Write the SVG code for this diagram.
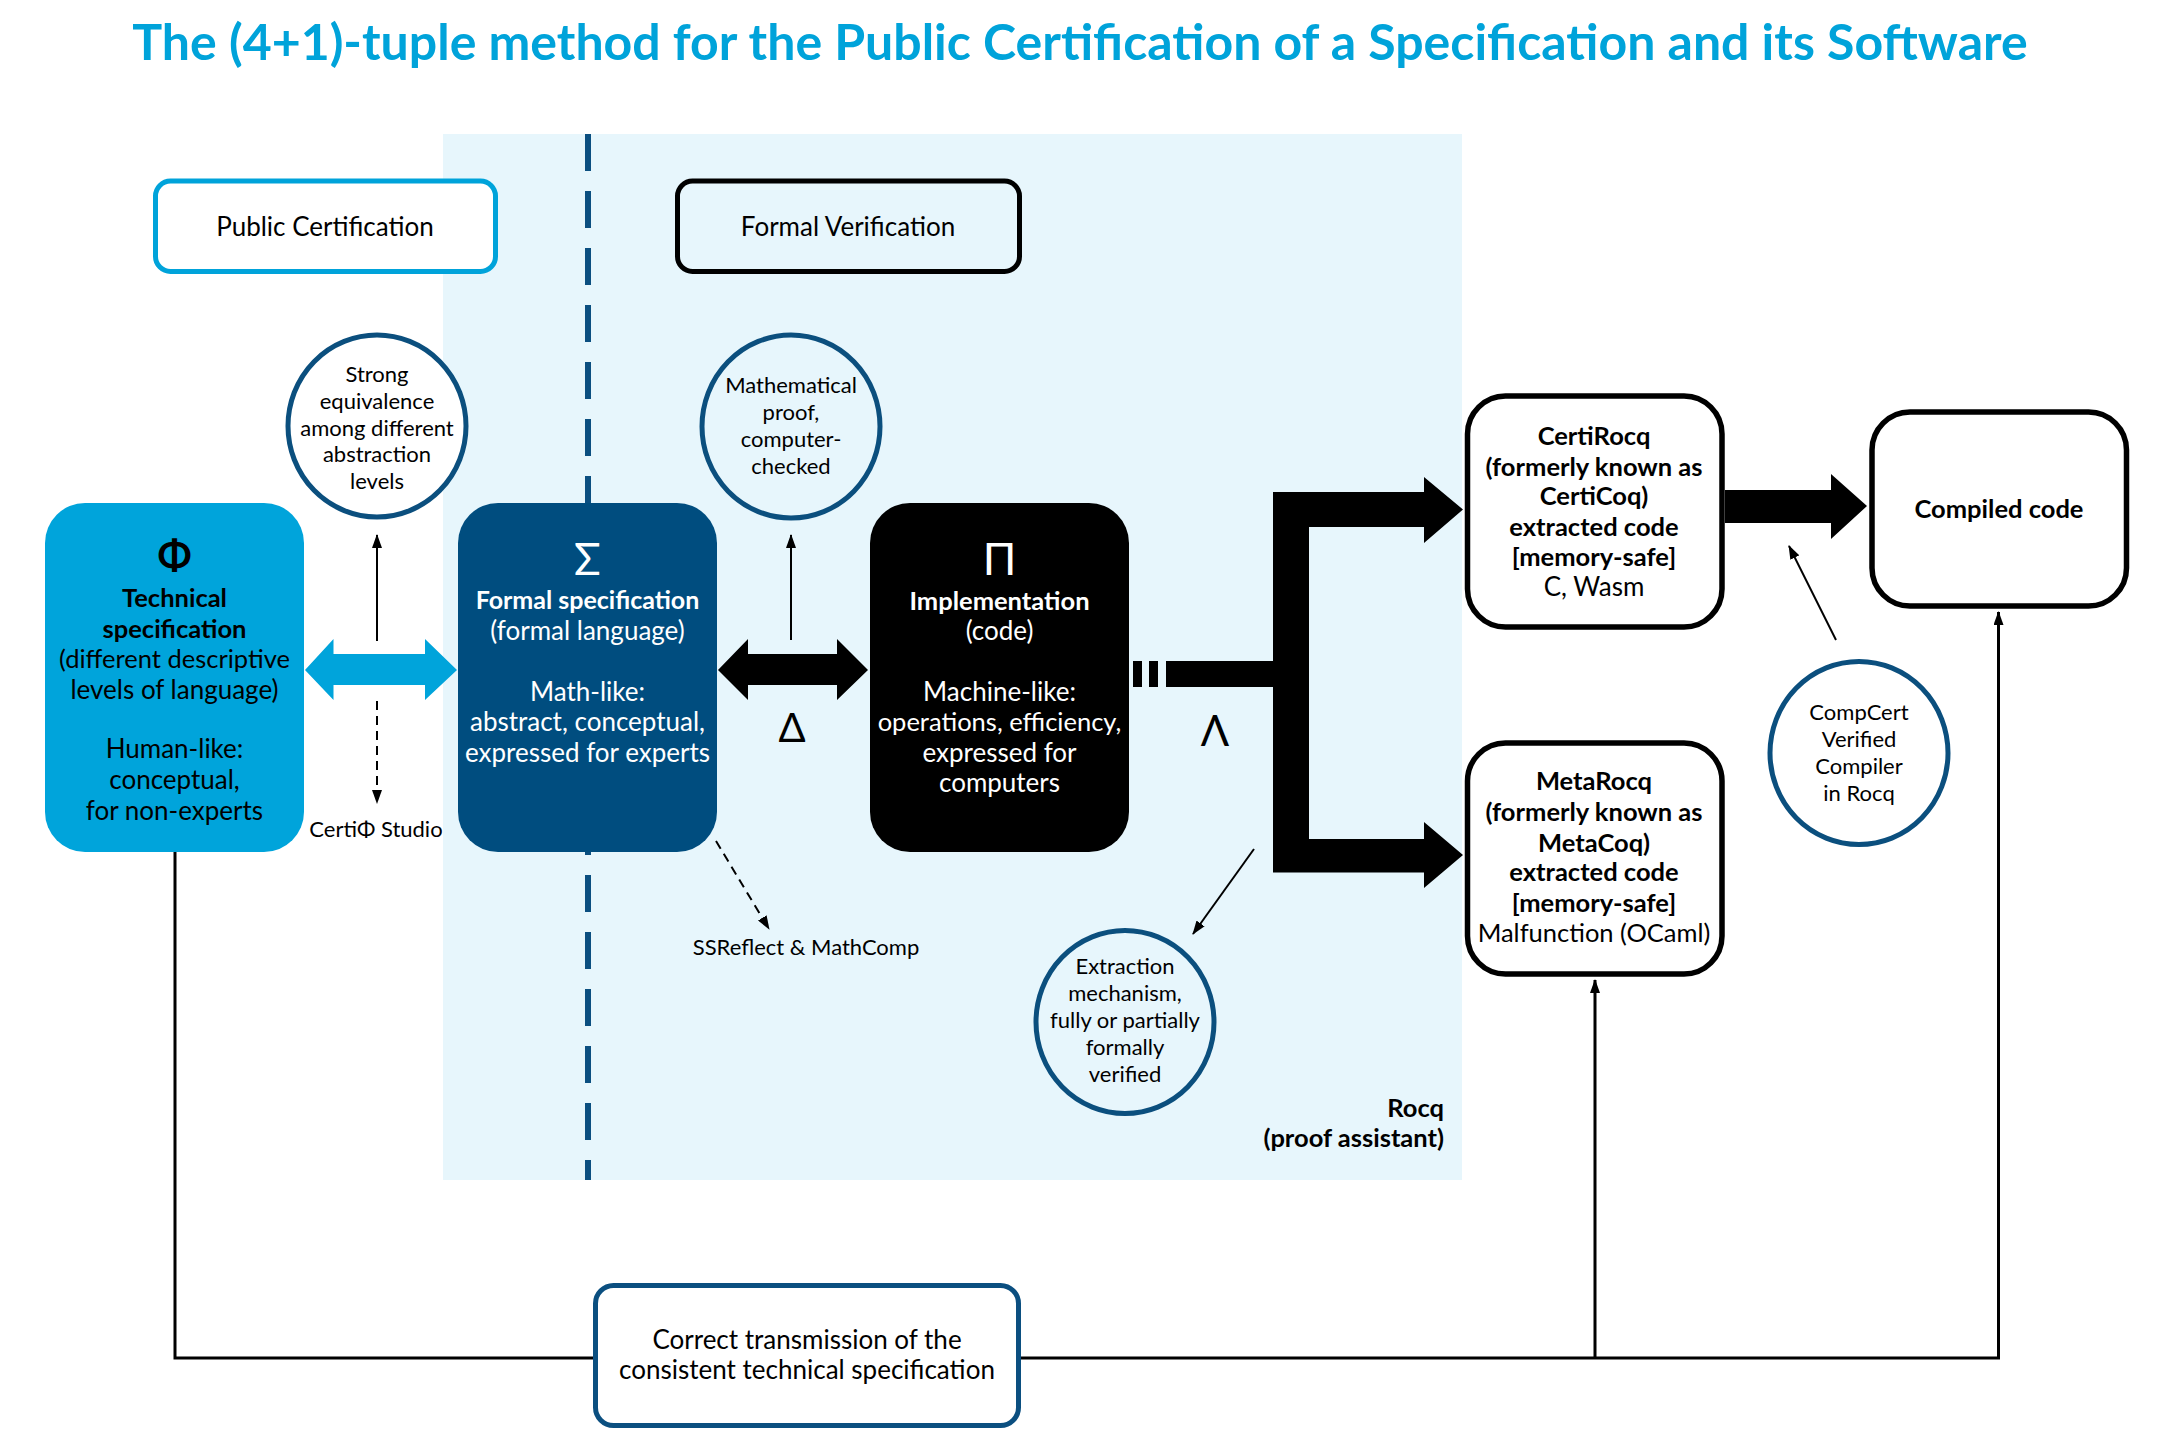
<svg xmlns="http://www.w3.org/2000/svg" width="2160" height="1440" viewBox="0 0 2160 1440">
<defs>
<style>
text{font-family:Lato,"Noto Sans","Liberation Sans",sans-serif;font-size:26px;text-anchor:middle;fill:#000}
.b{font-weight:bold;font-size:25.5px}
.w{fill:#fff}
.s22{font-size:22px}
.circ{fill:#fff;stroke:#0B4F7E;stroke-width:5}
.circt{fill:none;stroke:#0B4F7E;stroke-width:5}
.thin{stroke:#000;stroke-width:2;fill:none}
.dash{stroke-dasharray:9 6}
.conn{stroke:#000;stroke-width:3;fill:none}
</style>
<marker id="ah" markerUnits="userSpaceOnUse" markerWidth="14" markerHeight="10" refX="13" refY="5" orient="auto">
<path d="M0,0 L14,5 L0,10 z" fill="#000"/>
</marker>
</defs>
<rect width="2160" height="1440" fill="#fff"/>
<text x="1080" y="60" style="font-size:50px;font-weight:bold;fill:#00A3DA">The (4+1)-tuple method for the Public Certification of a Specification and its Software</text>

<g id="rocq-region">
<rect x="443" y="134" width="1019" height="1046" fill="#E7F6FC"/>
<line x1="588" y1="134" x2="588" y2="1180" stroke="#0B4F80" stroke-width="6" stroke-dasharray="37 20"/>
<text x="1444" y="1117" class="b" style="text-anchor:end">Rocq</text>
<text x="1444" y="1147" class="b" style="text-anchor:end">(proof assistant)</text>
</g>

<g id="public-certification">
<rect x="155.5" y="181" width="340" height="90.5" rx="15" fill="#fff" stroke="#00A3DA" stroke-width="5"/>
<text x="325" y="236">Public Certification</text>
</g>
<g id="formal-verification">
<rect x="677.5" y="181" width="342" height="90.5" rx="15" fill="none" stroke="#000" stroke-width="5"/>
<text x="848" y="236">Formal Verification</text>
</g>

<g id="connectors">
<polygon points="305,670 333.5,639 333.5,654 425,654 425,639 457,670 425,700 425,685 333.5,685 333.5,700" fill="#00A4DB"/>
<polygon points="718,670 748,639 748,654 837,654 837,639 868,670 837,700 837,685 748,685 748,700" fill="#000"/>
<rect x="1133" y="661" width="9" height="26" fill="#000"/>
<rect x="1149" y="661" width="9" height="26" fill="#000"/>
<rect x="1166" y="661" width="108" height="26" fill="#000"/>
<polygon points="1273,492 1424,492 1424,477 1463,509.5 1424,543 1424,527 1309,527 1309,839 1424,839 1424,822 1463,855 1424,888 1424,872.5 1273,872.5" fill="#000"/>
<polygon points="1725,490 1831,490 1831,474 1867,506 1831,539 1831,523 1725,523" fill="#000"/>
<line x1="377" y1="641" x2="377" y2="535" class="thin" marker-end="url(#ah)"/>
<line x1="377" y1="701" x2="377" y2="803" class="thin dash" marker-end="url(#ah)"/>
<line x1="791" y1="640" x2="791" y2="535" class="thin" marker-end="url(#ah)"/>
<line x1="716" y1="841" x2="769" y2="929" class="thin dash" marker-end="url(#ah)"/>
<line x1="1254" y1="849" x2="1193" y2="934" class="thin" marker-end="url(#ah)"/>
<line x1="1836" y1="640" x2="1789" y2="546" class="thin" marker-end="url(#ah)"/>
<polyline points="175,852 175,1358 593,1358" class="conn"/>
<polyline points="1021,1358 1998.5,1358 1998.5,612" class="conn" marker-end="url(#ah)"/>
<line x1="1595" y1="1358" x2="1595" y2="980" class="conn" marker-end="url(#ah)"/>
<text x="792" y="742" style="font-size:40px">Δ</text>
<text x="1215" y="746" style="font-size:42px">Λ</text>
<text x="376" y="837" class="s22">CertiΦ Studio</text>
<text x="806" y="955" class="s22">SSReflect &amp; MathComp</text>
</g>

<g id="strong-equivalence">
<ellipse cx="377" cy="426" rx="89" ry="91" class="circ"/>
<text x="377" y="382" class="s22">Strong</text>
<text x="377" y="409" class="s22">equivalence</text>
<text x="377" y="436" class="s22">among different</text>
<text x="377" y="462" class="s22">abstraction</text>
<text x="377" y="489" class="s22">levels</text>
</g>

<g id="math-proof">
<ellipse cx="791" cy="426.5" rx="89" ry="91.5" class="circt"/>
<text x="791" y="393" class="s22">Mathematical</text>
<text x="791" y="420" class="s22">proof,</text>
<text x="791" y="447" class="s22">computer-</text>
<text x="791" y="474" class="s22">checked</text>
</g>

<g id="technical-spec">
<rect x="45" y="503" width="259" height="349" rx="40" fill="#00A4DB"/>
<text x="174.5" y="570" style="font-size:40px;font-weight:bold">Φ</text>
<text x="174.5" y="607" class="b">Technical</text>
<text x="174.5" y="638" class="b">specification</text>
<text x="174.5" y="668" style="font-size:25.5px">(different descriptive</text>
<text x="174.5" y="699">levels of language)</text>
<text x="174.5" y="758">Human-like:</text>
<text x="174.5" y="789">conceptual,</text>
<text x="174.5" y="820">for non-experts</text>
</g>

<g id="formal-spec">
<rect x="458" y="503" width="259" height="349" rx="40" fill="#004D7F"/>
<text x="587.5" y="575" class="w" style="font-size:44px">Σ</text>
<text x="587.5" y="609" class="b w" style="font-size:25px">Formal specification</text>
<text x="587.5" y="640" class="w">(formal language)</text>
<text x="587.5" y="701" class="w">Math-like:</text>
<text x="587.5" y="731" class="w">abstract, conceptual,</text>
<text x="587.5" y="762" class="w">expressed for experts</text>
</g>

<g id="implementation">
<rect x="870" y="503" width="259" height="349" rx="40" fill="#000"/>
<text x="999.5" y="575" class="w" style="font-size:44px">Π</text>
<text x="999.5" y="610" class="b w">Implementation</text>
<text x="999.5" y="640" class="w">(code)</text>
<text x="999.5" y="701" class="w">Machine-like:</text>
<text x="999.5" y="731" class="w" style="font-size:25.5px">operations, efficiency,</text>
<text x="999.5" y="762" class="w">expressed for</text>
<text x="999.5" y="792" class="w">computers</text>
</g>

<g id="extraction">
<ellipse cx="1125" cy="1022" rx="89" ry="91.5" class="circt"/>
<text x="1125" y="974" class="s22">Extraction</text>
<text x="1125" y="1001" class="s22">mechanism,</text>
<text x="1125" y="1028" class="s22">fully or partially</text>
<text x="1125" y="1055" class="s22">formally</text>
<text x="1125" y="1082" class="s22">verified</text>
</g>

<g id="certirocq">
<rect x="1467.5" y="396" width="254.5" height="231" rx="38" fill="#fff" stroke="#000" stroke-width="5.5"/>
<text x="1594" y="445" class="b">CertiRocq</text>
<text x="1594" y="476" class="b">(formerly known as</text>
<text x="1594" y="505" class="b">CertiCoq)</text>
<text x="1594" y="536" class="b">extracted code</text>
<text x="1594" y="566" class="b">[memory-safe]</text>
<text x="1594" y="596">C, Wasm</text>
</g>

<g id="metarocq">
<rect x="1467.5" y="743" width="254.5" height="231" rx="38" fill="#fff" stroke="#000" stroke-width="5.5"/>
<text x="1594" y="790" class="b">MetaRocq</text>
<text x="1594" y="821" class="b">(formerly known as</text>
<text x="1594" y="852" class="b">MetaCoq)</text>
<text x="1594" y="881" class="b">extracted code</text>
<text x="1594" y="912" class="b">[memory-safe]</text>
<text x="1594" y="942" style="font-size:25.5px">Malfunction (OCaml)</text>
</g>

<g id="compiled-code">
<rect x="1872" y="412" width="254.5" height="194" rx="38" fill="#fff" stroke="#000" stroke-width="5.5"/>
<text x="1999" y="518" class="b">Compiled code</text>
</g>

<g id="compcert">
<ellipse cx="1859" cy="753" rx="89" ry="91.5" class="circ"/>
<text x="1859" y="720" class="s22">CompCert</text>
<text x="1859" y="747" class="s22">Verified</text>
<text x="1859" y="774" class="s22">Compiler</text>
<text x="1859" y="801" class="s22">in Rocq</text>
</g>

<g id="transmission">
<rect x="595.5" y="1285.5" width="423" height="140" rx="18" fill="#fff" stroke="#0B4F80" stroke-width="5"/>
<text x="807" y="1349">Correct transmission of the</text>
<text x="807" y="1379">consistent technical specification</text>
</g>
</svg>
